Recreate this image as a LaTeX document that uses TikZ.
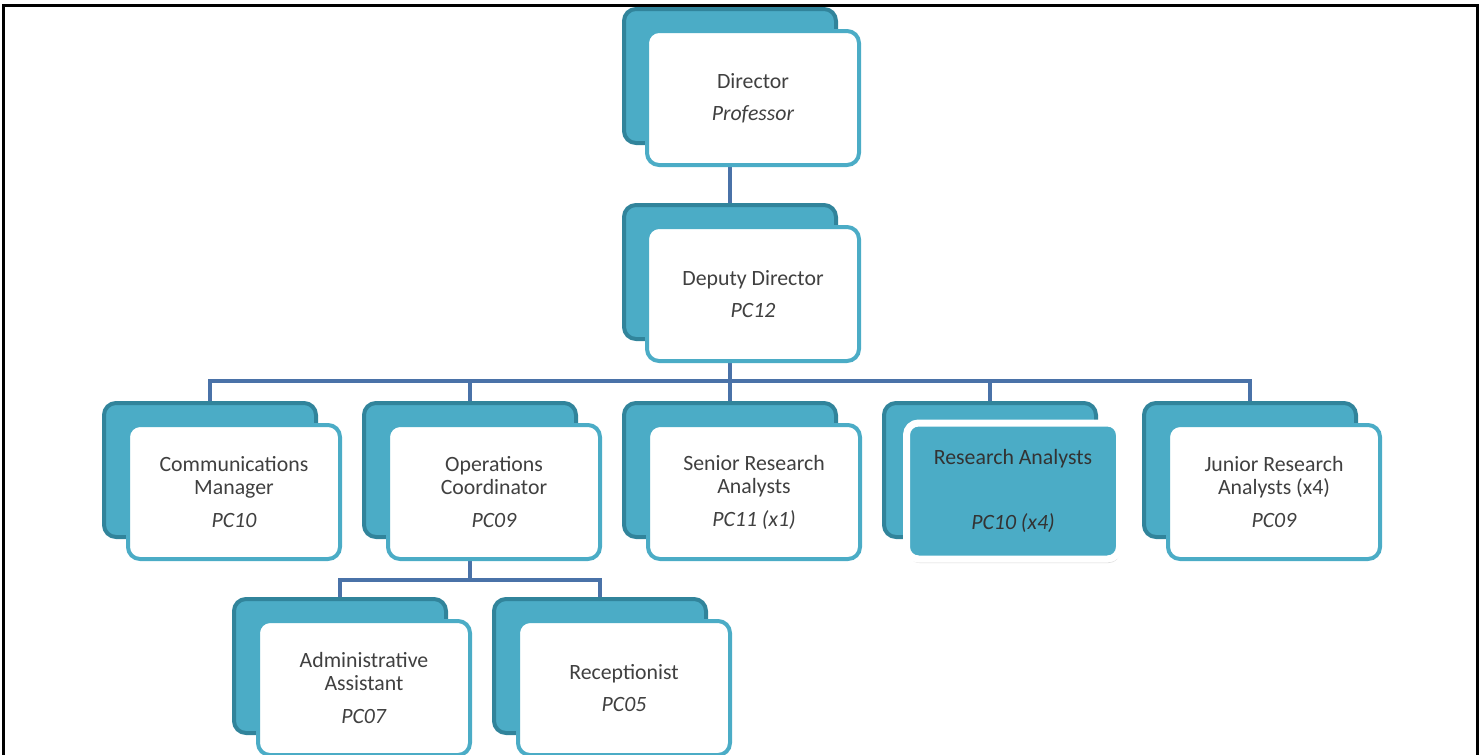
\documentclass[tikz,border=0pt]{standalone}
\usepackage{fontspec}
\setmainfont{Carlito}
\usetikzlibrary{backgrounds,shadows}
\definecolor{tealA}{HTML}{4BACC6}
\definecolor{tealD}{HTML}{31849B}
\definecolor{connC}{HTML}{4A72A8}
\definecolor{txtC}{HTML}{404040}
\tikzset{
  backbox/.style={draw=tealD, fill=tealA, line width=4pt, rounded corners=12pt,
    minimum width=212pt, minimum height=134pt, inner sep=0pt},
  frontbox/.style={draw=tealA, fill=white, line width=4pt, rounded corners=12pt,
    minimum width=212pt, minimum height=134pt, inner sep=0pt, align=center,
    font=\fontsize{21.8}{23}\selectfont, text=txtC},
  hlbox/.style={frontbox, fill=tealA, draw=white, line width=7pt,
    minimum width=213pt, minimum height=136pt, text=black!80,
    drop shadow={shadow xshift=1pt, shadow yshift=-4pt, opacity=0.3, fill=black!50}},
  connector/.style={draw=connC, line width=4pt}
}
\begin{document}
\begin{tikzpicture}[x=1pt,y=-1pt]
\useasboundingbox (0,0) rectangle (1481,755);
% frame
\draw[line width=3pt] (3,760) -- (3,5) -- (1477,5) -- (1477,760);
% Director
\node[backbox] (dirB) at (730,76) {};
\node[frontbox] (dirF) at (753,98) {Director\\[9pt]\textit{Professor}};
% Deputy
\node[backbox] (depB) at (730,272) {};
\node[frontbox] (depF) at (753,294) {Deputy Director\\[9pt]\textit{PC12}};
% row 3
\node[backbox] (comB) at (210,470) {};
\node[frontbox] (comF) at (234,492) {Communications\\Manager\\[10pt]\textit{PC10}};
\node[backbox] (opsB) at (470,470) {};
\node[frontbox] (opsF) at (494,492) {Operations\\Coordinator\\[10pt]\textit{PC09}};
\node[backbox] (senB) at (730,470) {};
\node[frontbox] (senF) at (754,492) {Senior Research\\Analysts\\[10pt]\textit{PC11 (x1)}};
\node[backbox] (resB) at (990,470) {};
\node[hlbox] (resF) at (1013,491) {Research Analysts\\[42pt]\textit{PC10 (x4)}};
\node[backbox] (junB) at (1250,470) {};
\node[frontbox] (junF) at (1274,492) {Junior Research\\Analysts (x4)\\[10pt]\textit{PC09}};
% row 4
\node[backbox] (admB) at (340,666) {};
\node[frontbox] (admF) at (364,688) {Administrative\\Assistant\\[10pt]\textit{PC07}};
\node[backbox] (recB) at (600,666) {};
\node[frontbox] (recF) at (624,688) {Receptionist\\[9pt]\textit{PC05}};
% connectors
\coordinate (bar) at (730,381);
\coordinate (obar) at (470,580);
\begin{scope}[on background layer]
\draw[connector] (dirB.south) -- (depB.north);
\draw[connector] (depB.south) -- (bar) -| (comB.north);
\draw[connector] (bar) -| (opsB.north);
\draw[connector] (bar) -- (senB.north);
\draw[connector] (bar) -| (resB.north);
\draw[connector] (bar) -| (junB.north);
\draw[connector] (opsB.south) -- (obar) -| (admB.north);
\draw[connector] (obar) -| (recB.north);
\end{scope}
\end{tikzpicture}
\end{document}
